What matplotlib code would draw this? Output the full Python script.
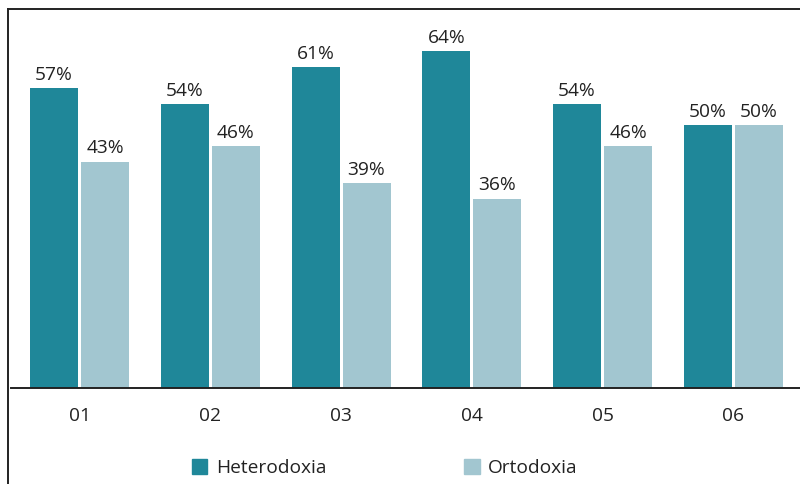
import matplotlib.pyplot as plt
import numpy as np
from matplotlib.patches import Patch
from matplotlib.lines import Line2D

plt.rcParams['font.family'] = ['Open Sans', 'DejaVu Sans']

grupos = ['01', '02', '03', '04', '05', '06']
heterodoxia = [57, 54, 61, 64, 54, 50]
ortodoxia = [43, 46, 39, 36, 46, 50]
series = ['Heterodoxia', 'Ortodoxia']
c_het = '#1f8799'
c_ort = '#a2c6d0'

fig = plt.figure(figsize=(8, 4.84), dpi=100)
ax = fig.add_axes([11/800, 1 - 388/484, 789/800, (388 - 9)/484])

x = np.arange(len(grupos))
w = 0.367
off = 0.195
b1 = ax.bar(x - off, heterodoxia, w, color=c_het)
b2 = ax.bar(x + off, ortodoxia, w, color=c_ort)
for barras, vals in [(b1, heterodoxia), (b2, ortodoxia)]:
    for b, v in zip(barras, vals):
        ax.annotate(f'{v}%', (b.get_x() + b.get_width()/2, v), xytext=(0, 3),
                    textcoords='offset points', ha='center', va='bottom',
                    fontsize=13.8, color='#222222')

ax.set_xlim(-0.524, 5.51)
ax.set_ylim(0, 72)
for s in ['top', 'right', 'left']:
    ax.spines[s].set_visible(False)
ax.spines['bottom'].set_color('#222222')
ax.spines['bottom'].set_linewidth(1.4)
ax.set_yticks([])
ax.set_xticks(x)
ax.set_xticklabels(grupos, fontsize=13.8, color='#222222')
ax.tick_params(axis='x', length=0, pad=14)

# marco alrededor de la figura (cortado a la derecha y abajo)
fig.add_artist(Line2D([8/800, 8/800], [0, 1 - 9/484], color='#222222', lw=1.4, transform=fig.transFigure))
fig.add_artist(Line2D([8/800, 1], [1 - 9/484, 1 - 9/484], color='#222222', lw=1.4, transform=fig.transFigure))

handles = [Patch(color=c_het, label=series[0]), Patch(color=c_ort, label=series[1])]
fig.legend(handles=handles, loc='center', bbox_to_anchor=(0.481, 1 - 468/484), ncol=2,
           frameon=False, fontsize=13.8, handlelength=0.8, handleheight=0.8,
           handletextpad=0.45, columnspacing=7.2, labelcolor='#222222')

fig.savefig('out.png', dpi=100)
